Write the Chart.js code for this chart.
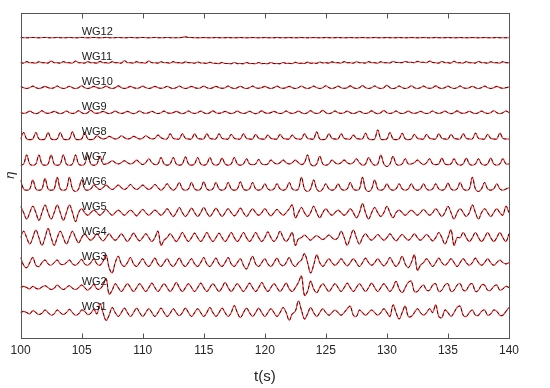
<!DOCTYPE html>
<html><head><meta charset="utf-8">
<script src="https://cdn.jsdelivr.net/npm/chart.js@4.4.0/dist/chart.umd.min.js"></script>
<style>html,body{margin:0;padding:0;background:#fff}canvas{display:block}</style>
</head><body>
<canvas id="c" width="550" height="388"></canvas>
<script>
// sampling of the records
const T_START = 100, T_STEP = 0.25;
const xTicks = [100, 105, 110, 115, 120, 125, 130, 135, 140];
const gaugeNames = ['WG1','WG2','WG3','WG4','WG5','WG6','WG7','WG8','WG9','WG10','WG11','WG12'];

// surface elevation (one row = one second, 4 samples)
const wg1 = [
 0,1,0,-1, 1.5,0,-1.5,-0.5, 2,0,-2,-1, 2,0,-1.5,0, 2.5,0,-2,-1,
 2,1,-1.5,-0.5, 2.5,-1,7,0, -6,-2,4,0, -3,0,3.5,0, -3,0,3.5,0,
 -3,0,3,0, -3,0,3.5,0, -3,-0.5,3,0, -2.5,0,3.5,0, -3,0,3,0,
 -3,0,4,0, -3,0,3.5,0, -3,0,5.5,0, -4,0,3.5,0, -3,0,3.5,0,
 -3,0,3,0, -3,0,4,0, -6,-1,1,9, 2,-5,-1,4, 0,-3,0,3,
 0,-2,0,2, 0,-2,0,3, 5,-2,-3,2, 0,-2,0,2, 0,-2,0,3,
 0,-3,6,0, -5,0,5,-3, -3,0,3,0, -2,0,3,0, 6,-3,-4,2,
 0,-3,0,4, 5,-2,-3,0, 2,-2,-2,1, 2,-2,-1,2, 1,-2,-2,1,
 4];
const wg2 = [
 0,1,0,-1, 1,-0.5,-1,0.5, 1.5,0,-1.5,-0.5, 2,0,-1.5,0, 1.5,-0.5,-1.5,0,
 2,0,-2,0, 2.5,-1,-1,2, 7,-5,-2,3, 0,-3,0,3, 0,-3,0,3,
 0,-3,0,3.5, 0,-3,0,3, 0,-3,0,4, 0,-3,0,3, 0,-3,0,3.5,
 0,-3,0,3, 0,-3,0,4, 0,-3,0,3, 0,-3,0,3.5, 0,-3,0,4,
 0,-3,0,3, 0,-3,0,3.5, -1,-3,0,4, 9,-6,-3,5, -1,-4,0,3,
 0,-3,0,3, 0,-3,0,3.5, 0,-3,0,3, 0,-3,0,3.5, 0,-3,0,3,
 0,-3,0,5, -1,-4,0,4, 5,-3,-3,0, 2,-2,-2,2, 3,-3,-2,2,
 3,-3,-2,2, 3,-2,-2,2, 3,-3,-2,2, 2,-2,-2,1, 2,-2,-1,1,
 0];
const wg3 = [
 4,-2,-4,0, 4,-2,-3,0, 2,-1,-2,0, 2,-1,-1.5,0, 2,-1,-2,0,
 2.5,-1,-2,0, 3,-1,-2,1, 6,-4,-8,0, 5,-1,-3,0, 4,-1,-3,0,
 3,-1,-3,0, 3.5,-1,-3,0, 3,-1,-3,0, 3.5,-1,-3,0, 3,-1,-3,0,
 4,-1,-3,0, 3.5,-1,-3,0, 4,-1,-3,0, 3,-2,-5,0, 5,-1,-3,0,
 3,-1,-3,0, 3.5,-1,-2.5,0, 4,-1,-3,0, 2,7,0,-8, -2,6,0,-3,
 0,3,0,-2, 0,3,0,-2.5, 0,3,0,-3, 0,3.5,0,-2, 0,3,0,-2.5,
 0,4,0,-3, 0,5,-1,-4, 0,6,-6,-2, 0,3,0,-3, 0,3.5,0,-2,
 0,3,0,-3, 0,3,0,-2, 0,3.5,0,-2, 0,3,0,-2, 0,2,0,-1,
 0];
const wg4 = [
 0,5,0,-5, 0,6,0,-6, 0,7,0,-6, 0,5,0,-5, 0,5,0,-4,
 0,3,0,-2, 0,3,0,-2.5, 0,3,0,-2, 0,3,0,-3, 0,3.5,0,-2.5,
 0,3,0,-3, 0,5,-6,-2, 0,3,0,-3, 0,4,0,-3, 0,3.5,0,-3,
 0,4,0,-3, 0,3.5,0,-3, 0,4,0,-3, 0,4,0,-3, 0,4,0,-3,
 0,4.5,0,-3, 0,5,0,-3, 0,4,-6,-1, 0,2,0,-2, 0,1.5,0,-1.5,
 0,2,0,-1.5, 0,5,0,-6, 0,6,0,-5, 0,3,0,-2, 0,2.5,0,-2,
 0,3,0,-2.5, 0,2.5,0,-2, 0,3,0,-2, 0,2.5,0,-2.5, 0,4,0,-5,
 0,6,-6,0, 0,4,0,-3, 0,4,0,-3, 0,4,0,-3, 0,4,0,-3,
 3];
const wg5 = [
 5,0,-5,0, 5,0,-6,0, 6,0,-5,0, 6,0,-6,0, 6,0,-7,0,
 3,0,-2,0, 2,0,-2,0, 2.5,0,-2,0, 2,0,-2,0, 2,0,-2.5,0,
 2.5,0,-2,0, 2,0,-2,0, 3,0,-3,0, 4,0,-3,0, 3.5,0,-3,0,
 4,0,-3,0, 3.5,0,-3,0, 3,0,-2.5,0, 3.5,0,-3,0, 3,0,-2,0,
 3,0,-2.5,0, 2.5,0,-2,0, 3,6,-4,0, 4,0,-3,0, 5,0,-4,0,
 3,0,-2,0, 2,0,-2,0, 3,0,-4,0, 7,0,-5,0, 4,0,-3,0,
 5,0,-4,0, 2,0,-2,0, 2,0,-2,0, 2.5,0,-2,0, 3,0,-3,0,
 5,0,-5,0, 3,0,-3,0, 6,0,-5,0, 3,0,-3,0, 3,0,-2,5,
 0];
const wg6 = [
 6,-1,-2,-1, 6,-1,-2,-1, 7,-1,-2,-1, 8,-1,-2,-1, 8,-1,-3,-1,
 6,-1,-2,-1, 2,0,-1.5,0, 2,0,-1.5,0, 2,0,-1.5,0, 2.5,0,-1.5,0,
 2,0,-1.5,0, 2.5,0,-2,0, 3,0,-2,0, 4,-1,-2,-1, 4,-1,-2,-1,
 4.5,-1,-2,-1, 4,-1,-2,-1, 4,-1,-2,-1, 4.5,-1,-2,-1, 4,-1,-2,-1,
 3,-1,-2,-1, 3,-1,-2,-1, 4,-1,-2,-1, 8,-1,-3,-1, 6,-1,-3,-1,
 3,-1,-2,-1, 3,-1,-2,-1, 4,-1,-2,-1, 8,-1,-3,-1, 6,-1,-2,-1,
 3,-1,-2,-1, 3,-1,-2,-1, 3,-1,-2,-1, 3,-1,-2,-1, 3,-1,-2,-1,
 3.5,-1,-2,-1, 4,-1,-2,-1, 8,-1,-3,-1, 4,-1,-2,-1, 3,-1,-2,-1,
 0];
const wg7 = [
 -2,-1,6,-1, -2,-1,6,-1, -2,-1,6,-1, -2,-1,6,-1, -2,-1,6,-1,
 -2,-1,6,-1, -2,-1,5,-1, -1,0,1.5,0, -1,0,1.5,0, -1,0,2,0,
 -1.5,0,3,0, -1.5,-1,4,-1, -2,-1,4,-1, -2,-1,4.5,-1, -2,-1,4,-1,
 -2,-1,4,-1, -2,-1,3.5,-1, -2,-1,4,-1, -2,-1,3,-1, -1.5,-1,2.5,-1,
 -1.5,-1,2,0, -1,0,2,0, -1,0,2,0, -1.5,0,6,-1, -2.5,-1,5,-1,
 -2,-1,2,0, -1,0,2,0, -1,0,3,0, -2,-1,4,0, -2,-1,6,-1,
 -3,-1,5,-1, -2,-1,3,-1, -1,0,2,0, -1.5,0,3,-1, -1.5,-1,3.5,-1,
 -1.5,-1,3,-1, -2,-1,3.5,-1, -2,-1,3,-1, -2,-1,3.5,-1, -2,-1,3,-1,
 -1];
const wg8 = [
 -1,4,-1,-1.5, -1,4,-1,-1.5, -1,4,-1,-1.5, -1,4,-1,-1.5, -1,4.5,-1,-1.5,
 -1,4,-1,-1.5, -1,1.5,0,-1, -0.5,1,0,-1, -0.5,1.5,0,-1, -0.5,1,0,-1,
 -0.5,1.5,0,-1, -0.5,2,0,-1, -1,3,-0.5,-1, -1,3,-0.5,-1, -1,3,-0.5,-1,
 -1,3,-0.5,-1, -1,3,-0.5,-1, -1,2.5,-0.5,-1, -1,3,-0.5,-1, -1,2.5,-0.5,-1,
 -1,2,-0.5,-1, -1,2.5,-0.5,-1, -1,2,-0.5,-1, -1,3,-0.5,-1, -1,4.5,-1,-1.5,
 -1,3,-0.5,-1, -1,3,-0.5,-1, -1,2,-0.5,-1, -1,3.5,-1,-1.5, -1,6,-1,-1.5,
 -1,4,-1,-1.5, -1,3.5,-1,-1.5, -1,2.5,-0.5,-1, -1,2.5,-0.5,-1, -1,3,-0.5,-1,
 -1,2.5,-0.5,-1, -1,3,-0.5,-1, -1,3.5,-0.5,-1, -1,2.5,-0.5,-1, -1,3.5,-0.5,-1,
 -1];
const wg9 = [
 0,-0.5,0,1.2, 0,-0.8,0,1.5, 0,-0.5,0,1, 0,-0.8,0,1.3, 0,-0.6,0,1.5,
 0,-0.8,0,1.8, 0,-0.5,0,1, 0,-0.8,0,1.2, 0,-0.6,0,1, 0,-0.8,0,1.3,
 0,-0.5,0,1.1, 0,-0.7,0,1.2, 0,-0.5,0,1, 0,-0.8,0,1.3, 0,-0.6,0,1.2,
 0,-0.8,0,1.4, 0,-0.5,0,1, 0,-0.7,0,1.2, 0,-0.6,0,1.1, 0,-0.8,0,1.4,
 0,-0.5,0,1, 0,-0.7,0,1.3, 0,-0.6,0,1.2, 0,-0.8,0,1.5, 0,-0.6,0,1.8,
 0,-0.8,0,1.3, 0,-0.5,0,1.2, 0,-0.7,0,1.1, 0,-0.6,0,1.4, 0,-0.8,0,1.6,
 0,-0.6,0,1.3, 0,-0.7,0,1.2, 0,-0.5,0,1.1, 0,-0.7,0,1.3, 0,-0.6,0,1.2,
 0,-0.8,0,1.4, 0,-0.5,0,1.1, 0,-0.7,0,1.2, 0,-0.6,0,1.5, 0,-0.8,0,1.3,
 0];
const wg10 = [
 1,0,-0.6,0, 1.2,0,-0.6,0, 1,0,-0.5,0, 1.3,0,-0.6,0, 1.1,0,-0.6,0,
 1.5,0,-0.6,0, 1,0,-0.5,0, 1.2,0,-0.6,0, 1.4,0,-0.6,0, 1,0,-0.5,0,
 1.2,0,-0.6,0, 1,0,-0.5,0, 1.1,0,-0.6,0, 1.3,0,-0.6,0, 1,0,-0.5,0,
 1.2,0,-0.6,0, 1,0,-0.5,0, 1.3,0,-0.6,0, 1.1,0,-0.6,0, 1.2,0,-0.5,0,
 1,0,-0.6,0, 1.2,0,-0.5,0, 1,0,-0.6,0, 1.3,0,-0.6,0, 1.2,0,-0.6,0,
 1.5,0,-0.6,0, 1.2,0,-0.5,0, 1.4,0,-0.6,0, 1.6,0,-0.6,0, 1.3,0,-0.6,0,
 1.8,0,-0.7,0, 1.3,0,-0.6,0, 1.5,0,-0.6,0, 1.2,0,-0.5,0, 1.4,0,-0.6,0,
 1.2,0,-0.6,0, 1.3,0,-0.5,0, 1.1,0,-0.6,0, 1.2,0,-0.6,0, 1,0,-0.5,0,
 0.5];
const wg11 = [
 0,-0.3,0.8,0, 0,-0.3,0.7,0, 0,-0.3,1.2,0, 0,-0.3,0.8,0, 0,-0.3,1.2,0,
 0,-0.3,0.8,0, 0,-0.3,1,0, 0,-0.3,0.8,0, 0,-0.3,1.5,0, 0,-0.3,0.8,0,
 0,-0.3,1.3,0, 0,-0.3,0.7,0, 0,-0.3,0.8,0, 0,-0.3,0.6,0, 0,-0.4,0.5,-0.2,
 -0.3,-0.5,0.3,-0.4, -0.5,-0.7,0.2,-0.6, -0.6,-0.8,0.1,-0.7, -0.6,-0.8,0.2,-0.7, -0.6,-0.8,0.1,-0.7,
 -0.6,-0.8,0.2,-0.7, -0.6,-0.8,0.2,-0.6, -0.5,-0.7,0.3,-0.5, -0.4,-0.6,0.4,-0.4, -0.3,-0.5,0.5,-0.2,
 0,-0.3,0.6,0, 0,-0.3,0.8,0, 0,-0.3,0.7,0, 0,-0.3,0.8,0, 0,-0.3,0.7,0,
 0,-0.2,0.9,0.2, 0.2,0,0.9,0.3, 0.3,0,1,0.3, 0.3,0,1.2,0.2, 0,-0.3,0.9,0,
 0,-0.3,1.1,0, 0,-0.3,0.8,0, 0,-0.3,0.9,0, 0,-0.3,0.7,0, 0,-0.3,0.8,0,
 0];
const wg12 = [
 0.2,0,-0.1,0, 0.2,0,-0.1,0, 0.2,0,-0.1,0, 0.2,0,-0.1,0, 0.2,0,-0.1,0,
 0.2,0,-0.1,0, 0.2,0,-0.1,0, 0.2,0,-0.1,0, 0.2,0,-0.1,0, 0.2,0,-0.1,0,
 0.2,0,-0.1,0, 0.2,0,-0.1,0, 0.2,0,-0.1,0, 0,0.3,0.6,0.2, 0.1,0,-0.1,0,
 0.1,0,-0.1,0, 0.1,0,-0.1,0, 0.1,0,-0.1,0, 0.1,0,-0.1,0, 0.1,0,-0.1,0,
 0.1,0,-0.1,0, 0.1,0,-0.1,0, 0.1,0,-0.1,0, 0.1,0,-0.1,0, 0.1,0,-0.1,0,
 0.1,0,-0.1,0, 0.1,0,-0.1,0, 0.1,0,-0.1,0, 0.1,0,-0.1,0, 0.1,0,-0.1,0,
 0.1,0,-0.1,0, 0.1,0,-0.1,0, 0.1,0,-0.1,0, 0.1,0,-0.1,0, 0.1,0,-0.1,0,
 0.1,0,-0.1,0, 0.1,0,-0.1,0, 0.1,0,-0.1,0, 0.1,0,-0.1,0, 0.1,0,-0.1,0,
 0];

const gaugeData = [wg1, wg2, wg3, wg4, wg5, wg6, wg7, wg8, wg9, wg10, wg11, wg12];
const SPACING = 19.5;    // vertical separation of the stacked records (data units)
const LABEL_LIFT = 4.2;
const AXIS_COLOR = '#555555';
const FONT = '"Liberation Sans", Arial, Helvetica, sans-serif';

function toPoints(arr, k) {
  return arr.map((v, i) => ({ x: T_START + i * T_STEP, y: v + (k + 1) * SPACING }));
}

const datasets = [];
gaugeData.forEach((arr, k) => {
  datasets.push({ label: gaugeNames[k] + ' exp', data: toPoints(arr, k), borderColor: 'rgba(0,0,0,0.85)',
    borderWidth: 0.9, borderDash: [3, 2.5], pointRadius: 0, tension: 0.4, order: 0, fill: false });
  datasets.push({ label: gaugeNames[k] + ' num', data: toPoints(arr, k), borderColor: 'rgb(255,40,40)',
    borderWidth: 1.1, pointRadius: 0, tension: 0.4, order: 1, fill: false });
});

const framePlugin = {
  id: 'frame',
  afterDatasetsDraw(chart) {
    const { ctx, chartArea: a, scales: { x, y } } = chart;
    ctx.save();
    ctx.font = '11px ' + FONT;
    ctx.fillStyle = '#1a1a1a';
    ctx.textAlign = 'left';
    ctx.textBaseline = 'middle';
    gaugeNames.forEach((n, k) => {
      ctx.fillText(n, x.getPixelForValue(105), y.getPixelForValue((k + 1) * SPACING + LABEL_LIFT));
    });
    ctx.strokeStyle = AXIS_COLOR;
    ctx.lineWidth = 1;
    const L = Math.round(a.left) + 0.5, R = Math.round(a.right) + 0.5;
    const T = Math.round(a.top) + 0.5, B = Math.round(a.bottom) + 0.5;
    ctx.strokeRect(L, T, R - L, B - T);
    ctx.beginPath();
    xTicks.forEach(v => {
      const px = Math.round(x.getPixelForValue(v)) + 0.5;
      ctx.moveTo(px, B); ctx.lineTo(px, B - 5);
      ctx.moveTo(px, T); ctx.lineTo(px, T + 5);
    });
    ctx.stroke();
    ctx.restore();
  }
};

new Chart(document.getElementById('c'), {
  type: 'line',
  data: { datasets },
  options: {
    responsive: false, animation: false, devicePixelRatio: 1,
    layout: { padding: { top: 12.7, right: 41, left: 0, bottom: 0 } },
    plugins: { legend: { display: false }, tooltip: { enabled: false } },
    scales: {
      x: {
        type: 'linear', min: 100, max: 140,
        afterBuildTicks: s => { s.ticks = xTicks.map(v => ({ value: v })); },
        grid: { display: false, drawTicks: false },
        border: { display: false },
        ticks: { padding: 6, color: '#262626', font: { size: 12, family: FONT } },
        title: { display: true, text: 't(s)', color: '#262626', padding: { top: 4, bottom: 2 },
          font: { size: 15, family: FONT } }
      },
      y: {
        min: 0, max: 13 * SPACING,
        grid: { display: false, drawTicks: false },
        border: { display: false },
        ticks: { display: false },
        title: { display: true, text: 'η', color: '#262626', padding: { top: 3, bottom: 2 },
          font: { size: 13, family: FONT, style: 'italic' } }
      }
    }
  },
  plugins: [framePlugin]
});
</script>
</body></html>
